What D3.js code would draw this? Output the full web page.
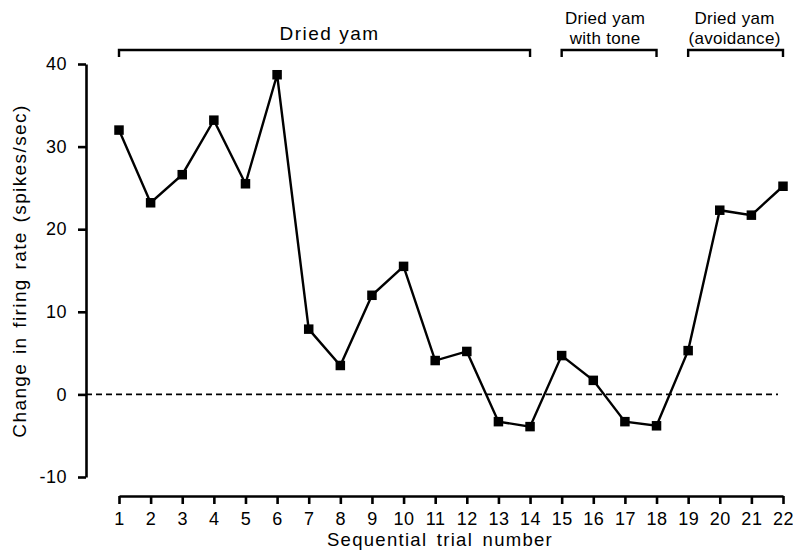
<!doctype html>
<html lang="en">
<head>
    <meta charset="utf-8">
    <title>Sequential trial number</title>
    <style>
        body { margin: 0; background: #fff; }
        svg text { font-family: "Liberation Sans", Arial, Helvetica, sans-serif; fill: #000; }
        .axis path, .axis line { stroke: #000; stroke-width: 2.6px; }
        .axis text { font-size: 18px; }
    </style>
</head>
<body>
<svg width="793" height="559" id="chart"></svg>

<script src="https://cdn.jsdelivr.net/npm/d3@7"></script>
<script>
    // values
    const trials = [1, 2, 3, 4, 5, 6, 7, 8, 9, 10, 11, 12, 13, 14, 15, 16, 17, 18, 19, 20, 21, 22];
    const firingChange = [32.0, 23.2, 26.6, 33.2, 25.5, 38.7, 7.9, 3.5, 12.0, 15.5, 4.1, 5.2,
        -3.3, -3.9, 4.7, 1.7, -3.3, -3.8, 5.3, 22.3, 21.7, 25.2];
    const yTicks = [-10, 0, 10, 20, 30, 40];
    const groupStart = [1, 15, 19];
    const groupEnd = [14, 18, 22];
    const groupLabels = [["Dried yam"], ["Dried yam", "with tone"], ["Dried yam", "(avoidance)"]];

    const svg = d3.select("#chart");

    const x = d3.scaleLinear()
        .domain([1, 22])
        .range([119, 783]);

    const y = d3.scaleLinear()
        .domain([-10, 40])
        .range([477, 64]);

    const yAxisX = 86;
    const xAxisY = 496;

    // y axis, plain hyphen for the minus like the original
    const yAxis = svg.append("g")
        .attr("class", "axis")
        .attr("transform", "translate(" + yAxisX + ",0)")
        .call(d3.axisLeft(y).tickValues(yTicks).tickSize(8).tickSizeOuter(0).tickPadding(11)
            .tickFormat(d => String(d)));
    yAxis.selectAll("text").attr("letter-spacing", "0.5px");

    // x axis (ticks hang below the line)
    const xAxis = svg.append("g")
        .attr("class", "axis")
        .attr("transform", "translate(0," + xAxisY + ")")
        .call(d3.axisBottom(x).tickValues(trials).tickSize(8).tickSizeOuter(0).tickPadding(8)
            .tickFormat(d => String(d)));
    xAxis.selectAll("text").attr("letter-spacing", "0.5px");

    // zero reference line
    svg.append("line")
        .attr("x1", yAxisX)
        .attr("x2", 778)
        .attr("y1", y(0))
        .attr("y2", y(0))
        .style("stroke", "#000")
        .style("stroke-width", 1.8)
        .style("stroke-dasharray", "6,4");

    // series line
    const points = trials.map((t, i) => [t, firingChange[i]]);
    svg.append("path")
        .datum(points)
        .attr("d", d3.line().x(d => x(d[0])).y(d => y(d[1])))
        .style("fill", "none")
        .style("stroke", "#000")
        .style("stroke-width", 2.4);

    const size = 9.5;
    svg.append("g")
        .selectAll("rect")
        .data(points)
        .enter().append("rect")
        .attr("x", d => x(d[0]) - size / 2)
        .attr("y", d => y(d[1]) - size / 2)
        .attr("width", size)
        .attr("height", size)
        .style("fill", "#000");

    // condition brackets on top
    const bracketY = 50;
    const labelShift = [5, -4, -1];
    groupStart.forEach((s, i) => {
        const x1 = x(s), x2 = x(groupEnd[i]);
        svg.append("path")
            .attr("d", "M" + x1 + "," + (bracketY + 7) + "V" + bracketY + "H" + x2 + "V" + (bracketY + 7))
            .style("fill", "none")
            .style("stroke", "#000")
            .style("stroke-width", 2.4);
        const lines = groupLabels[i];
        lines.forEach((txt, j) => {
            svg.append("text")
                .attr("x", (x1 + x2) / 2 + labelShift[i])
                .attr("y", lines.length === 1 ? 40 : 24 + j * 20)
                .attr("text-anchor", "middle")
                .attr("letter-spacing", lines.length === 1 ? "1.5px" : "0.3px")
                .style("font-size", lines.length === 1 ? "19px" : "17px")
                .text(txt);
        });
    });

    // axis titles
    svg.append("text")
        .attr("transform", "translate(440,546)")
        .attr("text-anchor", "middle")
        .attr("letter-spacing", "1.3px")
        .attr("word-spacing", "3px")
        .style("font-size", "18.5px")
        .text("Sequential trial number");

    svg.append("text")
        .attr("transform", "translate(26,271) rotate(-90)")
        .attr("text-anchor", "middle")
        .attr("letter-spacing", "1.4px")
        .attr("word-spacing", "2px")
        .style("font-size", "19px")
        .text("Change in firing rate (spikes/sec)");
</script>
</body>
</html>
